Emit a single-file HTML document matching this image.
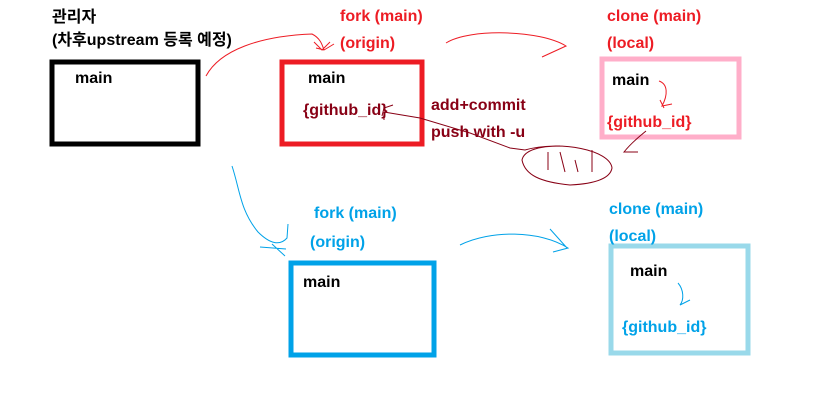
<!DOCTYPE html>
<html><head><meta charset="utf-8"><style>
body{margin:0;width:828px;height:400px;background:#fff;position:relative;overflow:hidden;font-family:"Liberation Sans","Noto Sans CJK KR",sans-serif;font-weight:bold;font-size:16px}
.t{position:absolute;white-space:nowrap;line-height:18px}
svg{position:absolute;left:0;top:0}
</style></head><body>
<svg width="828" height="400" fill="none">
<rect x="52" y="62" width="146" height="82" stroke="#000" stroke-width="5"/>
<rect x="282" y="62" width="140" height="82" stroke="#ed1c24" stroke-width="5"/>
<rect x="602" y="59" width="137" height="78" stroke="#ffaec9" stroke-width="5"/>
<rect x="291" y="263" width="143" height="92" stroke="#00a2e8" stroke-width="5"/>
<rect x="611" y="246" width="137" height="107" stroke="#99d9ea" stroke-width="5"/>
<g stroke="#ed1c24" stroke-width="1">
<path d="M206 76 C220 50 260 36 312 34 C320 38 322 44 324 50"/>
<path d="M314 42 L322 50 L330 42 M316 48 L324 50 L334 44"/>
<path d="M446 43 C470 28 540 30 566 46 L542 57"/>
<path d="M659 81 C668 84 668 95 662 106 L672 104 M660 100 L664 108"/>
</g>
<g stroke="#880015" stroke-width="1">
<path d="M382 116 L384 108 L393 105 M384 112 L384 120"/>
<path d="M384 112 L420 118 L470 133 L510 148 L525 150 C560 140 610 150 612 168 C610 180 590 184 570 185 C540 182 525 175 522 160 C524 150 540 146 560 146"/>
<path d="M646 131 C640 136 632 142 624 152 L638 152"/>
<path d="M548 152 L548 170 M560 152 L565 172 M575 160 L578 172 M592 150 L592 172"/>
</g>
<g stroke="#00a2e8" stroke-width="1">
<path d="M232 166 C240 190 240 210 258 232 C270 244 280 246 287 238 L288 224"/>
<path d="M260 247 L286 249 M272 244 L285 256"/>
<path d="M460 245 C490 230 540 230 568 248 L553 252 M550 229 L567 248"/>
<path d="M678 283 C684 290 684 300 680 305 L690 300"/>
</g>
</svg>
<div class="t" style="left:52px;top:9px">관리자</div>
<div class="t" style="left:52px;top:32px">(차후upstream 등록 예정)</div>
<div class="t" style="left:75px;top:70px">main</div>
<div class="t" style="left:340px;top:8px;color:#ed1c24">fork (main)</div>
<div class="t" style="left:340px;top:35px;color:#ed1c24">(origin)</div>
<div class="t" style="left:308px;top:70px">main</div>
<div class="t" style="left:303px;top:102px;color:#880015">{github_id}</div>
<div class="t" style="left:431px;top:97px;color:#880015">add+commit</div>
<div class="t" style="left:431px;top:124px;color:#880015">push with -u</div>
<div class="t" style="left:607px;top:8px;color:#ed1c24">clone (main)</div>
<div class="t" style="left:607px;top:35px;color:#ed1c24">(local)</div>
<div class="t" style="left:612px;top:72px">main</div>
<div class="t" style="left:607px;top:114px;color:#ed1c24">{github_id}</div>
<div class="t" style="left:314px;top:205px;color:#00a2e8">fork (main)</div>
<div class="t" style="left:310px;top:234px;color:#00a2e8">(origin)</div>
<div class="t" style="left:303px;top:274px">main</div>
<div class="t" style="left:609px;top:201px;color:#00a2e8">clone (main)</div>
<div class="t" style="left:609px;top:228px;color:#00a2e8">(local)</div>
<div class="t" style="left:630px;top:263px">main</div>
<div class="t" style="left:622px;top:319px;color:#00a2e8">{github_id}</div>
</body></html>
